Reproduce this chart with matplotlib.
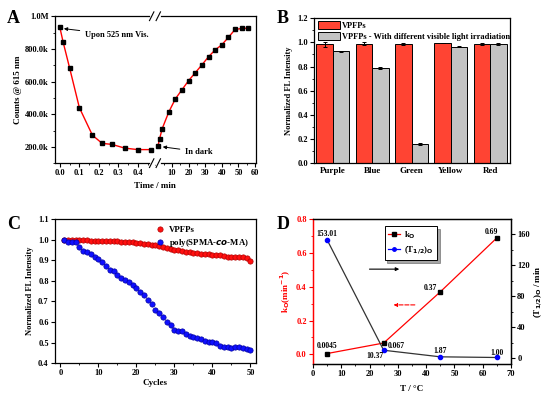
import numpy as np
import matplotlib
matplotlib.use('Agg')
import matplotlib.pyplot as plt
from matplotlib.ticker import FuncFormatter, MultipleLocator
from matplotlib.lines import Line2D

plt.rcParams['font.family'] = ['Liberation Serif', 'DejaVu Serif']
plt.rcParams['font.weight'] = 'bold'
plt.rcParams['axes.labelweight'] = 'bold'
plt.rcParams['font.size'] = 6
plt.rcParams['axes.linewidth'] = 0.9
plt.rcParams['xtick.direction'] = 'out'
plt.rcParams['ytick.direction'] = 'out'
plt.rcParams['xtick.major.size'] = 3
plt.rcParams['ytick.major.size'] = 3
plt.rcParams['xtick.minor.size'] = 1.6
plt.rcParams['ytick.minor.size'] = 1.6
plt.rcParams['xtick.major.pad'] = 1.5
plt.rcParams['ytick.major.pad'] = 1.5

# ---- panel A data
t_vis = [0, 0.017, 0.05, 0.1, 0.167, 0.217, 0.267, 0.333, 0.4, 0.467]
counts_vis = [931e3, 840e3, 683e3, 440e3, 271e3, 221e3, 215e3, 192e3, 183e3, 183e3]
t_dark = [1.5, 2.5, 4, 8, 12, 16, 20, 24, 28, 32, 36, 40, 44, 48, 52, 56]
counts_dark = [206e3, 250e3, 310e3, 413e3, 494e3, 550e3, 606e3, 654e3, 702e3,
               752e3, 794e3, 825e3, 871e3, 919e3, 925e3, 927e3]

# ---- panel B data
colours = ['Purple', 'Blue', 'Green', 'Yellow', 'Red']
vpfp = [0.985, 0.99, 0.988, 0.995, 0.988]
vpfp_err = [0.02, 0.01, 0.008, 0.003, 0.01]
vpfp_irr = [0.925, 0.787, 0.157, 0.965, 0.983]
vpfp_irr_err = [0.003, 0.01, 0.01, 0.005, 0.008]

# ---- panel C data
cycles = list(range(1, 51))
fl_vpfp = [1.0, 0.999, 0.998, 0.997, 0.997, 0.996, 0.996, 0.995, 0.994, 0.993,
           0.993, 0.992, 0.992, 0.991, 0.991, 0.990, 0.989, 0.988, 0.986, 0.985,
           0.983, 0.980, 0.978, 0.975, 0.972, 0.969, 0.966, 0.958, 0.955, 0.951,
           0.948, 0.945, 0.942, 0.939, 0.937, 0.934, 0.932, 0.930, 0.928, 0.927,
           0.925, 0.923, 0.920, 0.917, 0.914, 0.914, 0.914, 0.913, 0.912, 0.897]
fl_poly = [1.0, 0.989, 0.989, 0.987, 0.966, 0.943, 0.938, 0.93, 0.917, 0.906,
           0.893, 0.872, 0.852, 0.846, 0.826, 0.815, 0.805, 0.792, 0.779, 0.763,
           0.745, 0.729, 0.705, 0.685, 0.659, 0.643, 0.623, 0.599, 0.586, 0.563,
           0.557, 0.555, 0.542, 0.534, 0.528, 0.524, 0.515, 0.508, 0.505, 0.502,
           0.497, 0.485, 0.479, 0.479, 0.474, 0.476, 0.476, 0.473, 0.468, 0.466]

# ---- panel D data
temps = [5, 25, 45, 65]
k_o = [0.0045, 0.067, 0.37, 0.69]
k_labels = ['0.0045', '0.067', '0.37', '0.69']
t_half = [153.01, 10.37, 1.87, 1.00]
t_labels = ['153.01', '10.37', '1.87', '1.00']

fig = plt.figure(figsize=(5.5, 3.96), dpi=100)

# ================= A (broken x axis)
xb, ya, ha_ = 0.2818, 0.588, 0.371
axA1 = fig.add_axes([0.1, ya, xb - 0.1, ha_])
axA2 = fig.add_axes([xb, ya, 0.1836, ha_], sharey=axA1)
for ax in (axA1, axA2):
    ax.tick_params(labelsize=6)
axA1.plot(t_vis, counts_vis, '-s', color='red', lw=1, ms=3,
          mfc='black', mec='black')
axA2.plot(t_dark, counts_dark, '-s', color='red', lw=1, ms=3,
          mfc='black', mec='black')
axA1.set_xlim(-0.025, 0.488)
axA2.set_xlim(-0.3, 60.6)
axA1.set_ylim(1.0e5, 1.0e6)
axA1.set_xticks([0, 0.1, 0.2, 0.3, 0.4])
axA1.xaxis.set_minor_locator(MultipleLocator(0.05))
axA2.set_xticks([10, 20, 30, 40, 50, 60])
axA2.xaxis.set_minor_locator(MultipleLocator(5))
axA1.set_yticks([2e5, 4e5, 6e5, 8e5, 1e6])
axA1.yaxis.set_minor_locator(MultipleLocator(1e5))


def fmt_counts(v, pos):
    if v >= 1e6:
        return '%.1fM' % (v / 1e6)
    return '%.1fk' % (v / 1e3)


axA1.yaxis.set_major_formatter(FuncFormatter(fmt_counts))
axA1.spines['right'].set_visible(False)
axA2.spines['left'].set_visible(False)
axA2.tick_params(axis='y', left=False, labelleft=False, which='both')
axA1.set_ylabel('Counts @ 615 nm', fontsize=6.5, labelpad=2)
fig.text(xb, 0.525, 'Time / min', ha='center', fontsize=6.5)

# break marks "//" on top and bottom spines
for y0 in (ya, ya + ha_):
    fig.add_artist(Line2D([xb - 0.007, xb + 0.007], [y0, y0],
                          color='white', lw=2, zorder=3))
    for dx in (-0.006, 0.006):
        fig.add_artist(Line2D([xb + dx - 0.004, xb + dx + 0.004],
                              [y0 - 0.011, y0 + 0.011],
                              color='black', lw=0.8, zorder=4))

axA1.annotate('Upon 525 nm Vis.', xy=(t_vis[0] + 0.006, counts_vis[0] - 5e3),
              xytext=(0.13, 8.85e5), fontsize=6, va='center',
              arrowprops=dict(arrowstyle='-|>', color='black', lw=0.7,
                              mutation_scale=5))
axA2.annotate('In dark', xy=(t_dark[0] + 1.2, counts_dark[0] - 4e3),
              xytext=(18, 1.7e5), fontsize=6, va='center',
              arrowprops=dict(arrowstyle='-|>', color='black', lw=0.7,
                              mutation_scale=5))

# ================= B
axB = fig.add_axes([0.571, 0.588, 0.356, 0.366])
x = np.arange(len(colours))
w = 0.42
axB.bar(x - w / 2, vpfp, w, yerr=vpfp_err, color='#FF4433', edgecolor='black',
        lw=0.7, capsize=1.5, error_kw=dict(lw=0.7, capthick=0.7),
        label='VPFPs')
axB.bar(x + w / 2, vpfp_irr, w, yerr=vpfp_irr_err, color='#C3C3C3',
        edgecolor='black', lw=0.7, capsize=1.5,
        error_kw=dict(lw=0.7, capthick=0.7),
        label='VPFPs - With different visible light irradiation')
axB.set_xlim(-0.48, 4.5)
axB.set_ylim(0, 1.2)
axB.set_xticks(x)
axB.set_xticklabels(colours, fontsize=6.5)
axB.set_yticks(np.arange(0, 1.21, 0.2))
axB.yaxis.set_major_formatter(FuncFormatter(lambda v, p: '%.1f' % v))
axB.yaxis.set_minor_locator(MultipleLocator(0.1))
axB.tick_params(axis='x', length=0, pad=3)
axB.set_ylabel('Normalized FL Intensity', fontsize=6, labelpad=3)
axB.legend(loc='upper left', bbox_to_anchor=(-0.01, 1.02), frameon=False,
           fontsize=6, handlelength=2.6, handleheight=1.0, borderpad=0.2,
           labelspacing=0.3, handletextpad=0.3)

# ================= C
axC = fig.add_axes([0.1, 0.083, 0.365, 0.364])
axC.plot(cycles, fl_vpfp, 'o', color='#FF1010', mec='#B00000', ms=3.8,
         mew=0.5, label='VPFPs')
axC.plot(cycles, fl_poly, 'o', color='#1010FF', mec='#0000A0', ms=3.8,
         mew=0.5, label='poly(SPMA-$\\mathbf{\\it{co}}$-MA)')
axC.set_xlim(-1.4, 51.4)
axC.set_ylim(0.4, 1.1)
axC.set_xticks([0, 10, 20, 30, 40, 50])
axC.xaxis.set_minor_locator(MultipleLocator(5))
axC.set_yticks(np.arange(0.4, 1.11, 0.1))
axC.yaxis.set_major_formatter(FuncFormatter(lambda v, p: '%.1f' % v))
axC.set_xlabel('Cycles', fontsize=6.5, labelpad=1)
axC.set_ylabel('Normalized FL Intensity', fontsize=6, labelpad=3)
axC.legend(loc='upper right', bbox_to_anchor=(1.0, 1.0), frameon=False,
           fontsize=6.3, handlelength=1.2, handletextpad=0.4,
           labelspacing=0.3, borderpad=0.3)

# ================= D
axD = fig.add_axes([0.569, 0.081, 0.36, 0.365])
axD2 = axD.twinx()
axD.plot(temps, k_o, '-s', color='red', lw=0.9, ms=3, mfc='black', mec='black',
         zorder=3)
axD2.plot(temps, t_half, '-o', color='#333333', lw=0.9, ms=3, mfc='blue',
          mec='blue')
axD.set_xlim(0, 70)
axD.set_ylim(-0.057, 0.8)
axD2.set_ylim(-7.3, 179.4)
axD.set_xticks(np.arange(0, 71, 10))
axD.xaxis.set_minor_locator(MultipleLocator(5))
axD.set_yticks([0, 0.2, 0.4, 0.6, 0.8])
axD.yaxis.set_major_formatter(FuncFormatter(lambda v, p: '%.1f' % v))
axD.yaxis.set_minor_locator(MultipleLocator(0.1))
axD2.set_yticks([0, 40, 80, 120, 160])
axD2.yaxis.set_minor_locator(MultipleLocator(20))
axD.spines['left'].set_color('red')
axD2.spines['left'].set_color('red')
axD.tick_params(axis='y', which='both', colors='red')
axD.set_xlabel('T / \u00b0C', fontsize=6.5, labelpad=5)
axD.set_ylabel('k$_\\mathbf{O}$(min$^{\\mathbf{-1}}$)', color='red',
               fontsize=6.5, labelpad=2)
axD2.set_ylabel('(T$_{\\mathbf{1/2}}$)$_\\mathbf{O}$ / min', fontsize=6.5,
                labelpad=2)

# value labels
k_pos = [(5, 0.05, 'center'), (26.5, 0.05, 'left'), (41.5, 0.395, 'center'),
         (63, 0.725, 'center')]
for (xx, yy, ha), lab in zip(k_pos, k_labels):
    axD.text(xx, yy, lab, ha=ha, va='center', fontsize=5.5)
t_pos = [(5, 161), (22, 3.5), (45, 10), (65, 7)]
for (xx, yy), lab in zip(t_pos, t_labels):
    axD2.text(xx, yy, lab, ha='center', va='center', fontsize=5.5)

axD.annotate('', xy=(31.5, 0.505), xytext=(19, 0.505),
             arrowprops=dict(arrowstyle='-|>', color='black', lw=0.8,
                             mutation_scale=5))
axD.annotate('', xy=(27.5, 0.293), xytext=(37, 0.293),
             arrowprops=dict(arrowstyle='-|>', color='red', lw=0.8,
                             ls='--', mutation_scale=5))

handles = [Line2D([], [], color='red', marker='s', mfc='black', mec='black',
                  ms=2.5, lw=0.9),
           Line2D([], [], color='blue', marker='o', mfc='blue', mec='blue',
                  ms=2.5, lw=0.9)]
leg = axD2.legend(handles, ['k$_\\mathbf{O}$',
                            '(T$_{\\mathbf{1/2}}$)$_\\mathbf{O}$'],
                  loc='upper left', bbox_to_anchor=(0.34, 0.985), fontsize=6.3,
                  fancybox=False, shadow=True, edgecolor='black',
                  handlelength=1.4, handletextpad=0.4, borderpad=0.4,
                  labelspacing=0.4)
leg.get_frame().set_linewidth(0.7)

# panel letters
for lab, xx, yy in [('A', 0.013, 0.975), ('B', 0.503, 0.975),
                    ('C', 0.013, 0.455), ('D', 0.503, 0.455)]:
    fig.text(xx, yy, lab, fontsize=13, va='top', ha='left')

fig.savefig('out.png', dpi=100)
